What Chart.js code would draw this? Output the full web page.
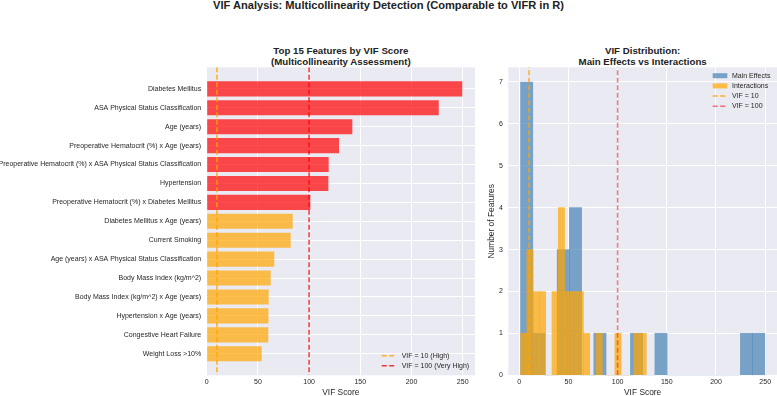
<!DOCTYPE html>
<html>
<head>
<meta charset="utf-8">
<script src="https://cdn.jsdelivr.net/npm/chart.js@4.4.0/dist/chart.umd.min.js"></script>
<style>
  html, body { margin: 0; padding: 0; background: #fff; overflow: hidden; }
  body { width: 777px; height: 396px; position: relative; font-family: "Liberation Sans", Arial, sans-serif; color: #222; }
  .title { position: absolute; text-align: center; font-weight: bold; white-space: nowrap; }
  #suptitle { left: 0; width: 777px; top: 0; font-size: 11.1px; line-height: 11px; }
  #leftTitle { left: 206.7px; width: 268.3px; top: 44.6px; font-size: 9.7px; line-height: 11px; }
  #rightTitle { left: 508.3px; width: 268.7px; top: 44.6px; font-size: 9.7px; line-height: 11px; }
  canvas { position: absolute; top: 0; }
  #leftChart { left: 0; }
  #rightChart { left: 480px; }
</style>
</head>
<body>
<div id="suptitle" class="title">VIF Analysis: Multicollinearity Detection (Comparable to VIFR in R)</div>
<div id="leftTitle" class="title">Top 15 Features by VIF Score<br>(Multicollinearity Assessment)</div>
<div id="rightTitle" class="title">VIF Distribution:<br>Main Effects vs Interactions</div>
<canvas id="leftChart" width="480" height="400"></canvas>
<canvas id="rightChart" width="297" height="400"></canvas>
<script>
// top 15 features, highest VIF first
const features = [
    'Diabetes Mellitus',
    'ASA Physical Status Classification',
    'Age (years)',
    'Preoperative Hematocrit (%) x Age (years)',
    'Preoperative Hematocrit (%) x ASA Physical Status Classification',
    'Hypertension',
    'Preoperative Hematocrit (%) x Diabetes Mellitus',
    'Diabetes Mellitus x Age (years)',
    'Current Smoking',
    'Age (years) x ASA Physical Status Classification',
    'Body Mass Index (kg/m^2)',
    'Body Mass Index (kg/m^2) x Age (years)',
    'Hypertension x Age (years)',
    'Congestive Heart Failure',
    'Weight Loss >10%'
];
const vifScores = [249.6, 226.6, 142.2, 129.2, 119.1, 118.8, 101.2, 84.0, 82.0, 66.0, 62.5, 60.5, 60.3, 60.2, 53.7];

// histogram bins (edges) and counts
const mainEdges = [1.4, 13.81, 26.22, 38.63, 51.04, 63.45, 75.86, 88.27, 100.68, 113.09, 125.5,
                   137.91, 150.32, 162.73, 175.14, 187.55, 199.96, 212.37, 224.78, 237.19, 249.6];
const mainCounts = [7, 1, 0, 3, 4, 0, 1, 0, 0, 1, 0, 1, 0, 0, 0, 0, 0, 0, 1, 1];
const interEdges = [1.4, 7.79, 14.18, 20.57, 26.96, 33.35, 39.74, 46.13, 52.52, 58.91, 65.3,
                    71.69, 78.08, 84.47, 90.86, 97.25, 103.64, 110.03, 116.42, 122.81, 129.2];
const interCounts = [1, 3, 2, 2, 0, 2, 4, 2, 2, 2, 1, 0, 1, 0, 0, 1, 0, 0, 1, 1];

const thresholdHigh = 10;
const thresholdVeryHigh = 100;

// axis limits
const leftXMax = 262;
const leftYMin = -1.14, leftYMax = 15.14;
const rightXMin = -11.05, rightXMax = 262;
const rightYMax = 7.35;

Chart.defaults.font.family = "'Liberation Sans', Arial, sans-serif";
Chart.defaults.color = '#262626';

const tickFont = { size: 7 };
const axisTitleFont = { size: 8.4 };

let plotBackground = {
    id: 'plotBackground',
    beforeDraw: function (chart) {
        let a = chart.chartArea;
        chart.ctx.save();
        chart.ctx.fillStyle = '#eaeaf2';
        chart.ctx.fillRect(a.left, a.top, a.right - a.left, a.bottom - a.top);
        chart.ctx.restore();
    }
};

// legend drawn inside the plot area, like matplotlib
let insideLegend = {
    id: 'insideLegend',
    afterDatasetsDraw: function (chart, args, opts) {
        let ctx = chart.ctx;
        let a = chart.chartArea;
        let items = chart.data.datasets.filter(d => !d.noLegend);
        ctx.save();
        ctx.font = '7px "Liberation Sans", Arial, sans-serif';
        ctx.textBaseline = 'middle';
        items.forEach(function (d, i) {
            let x = a.right + opts.dx;
            let y = (opts.fromBottom ? a.bottom : a.top) + opts.dy + i * opts.rowHeight;
            if (d.type === 'bar') {
                ctx.fillStyle = d.backgroundColor;
                ctx.fillRect(x, y - 2.5, 14.6, 5);
            } else {
                ctx.strokeStyle = d.borderColor;
                ctx.lineWidth = d.borderWidth;
                ctx.setLineDash(d.borderDash);
                ctx.beginPath();
                ctx.moveTo(x, y);
                ctx.lineTo(x + 15, y);
                ctx.stroke();
                ctx.setLineDash([]);
            }
            ctx.fillStyle = '#262626';
            ctx.fillText(d.label, x + opts.textGap, y);
        });
        ctx.restore();
    }
};

let vLine = function (label, xValue, y0, y1, color, xAxisID) {
    return {
        type: 'line',
        label: label,
        data: [{ x: xValue, y: y0 }, { x: xValue, y: y1 }],
        xAxisID: xAxisID,
        borderColor: color,
        borderWidth: 1.5,
        borderDash: [5, 2.5],
        pointRadius: 0,
        order: 1
    };
};

let leftChartDraw = function () {
    let ctx = document.getElementById('leftChart').getContext('2d');
    new Chart(ctx, {
        type: 'bar',
        data: {
            datasets: [
                {
                    type: 'bar',
                    label: 'VIF Score',
                    noLegend: true,
                    data: vifScores.map((v, i) => ({ x: v, y: i })),
                    backgroundColor: vifScores.map(v => v >= thresholdVeryHigh ? 'rgba(255,0,0,0.7)' : 'rgba(255,165,0,0.7)'),
                    barPercentage: 0.8,
                    categoryPercentage: 1,
                    order: 2
                },
                vLine('VIF = 10 (High)', thresholdHigh, leftYMin, leftYMax, 'rgba(255,165,0,0.85)', 'x'),
                vLine('VIF = 100 (Very High)', thresholdVeryHigh, leftYMin, leftYMax, 'rgba(255,0,0,0.8)', 'x')
            ]
        },
        options: {
            responsive: false,
            animation: false,
            indexAxis: 'y',
            layout: { padding: { top: 67.3, right: 5, bottom: 0, left: 0 } },
            plugins: {
                legend: { display: false },
                tooltip: { enabled: false },
                insideLegend: { dx: -93.3, dy: -19.6, rowHeight: 10, textGap: 20, fromBottom: true }
            },
            scales: {
                x: {
                    type: 'linear',
                    min: 0,
                    max: leftXMax,
                    grid: { color: '#ffffff', drawTicks: false },
                    border: { display: false },
                    ticks: { stepSize: 50, includeBounds: false, padding: 3, font: tickFont },
                    title: { display: true, text: 'VIF Score', font: axisTitleFont, padding: { top: 0, bottom: 2.4 } },
                    afterFit: function (scale) { scale.height = 24.7; }
                },
                y: {
                    type: 'linear',
                    reverse: true,
                    min: leftYMin,
                    max: leftYMax,
                    offset: false,
                    grid: { color: '#ffffff', drawTicks: false, offset: false },
                    border: { display: false },
                    afterBuildTicks: function (scale) {
                        scale.ticks = features.map((f, i) => ({ value: i }));
                    },
                    ticks: {
                        autoSkip: false,
                        padding: 5.5,
                        font: tickFont,
                        callback: function (value) { return features[value]; }
                    },
                    afterFit: function (scale) { scale.width = 206.7; }
                }
            }
        },
        plugins: [plotBackground, insideLegend]
    });
};

let binsToPoints = function (edges, counts) {
    return counts.map((c, i) => ({ x: (edges[i] + edges[i + 1]) / 2, y: c }));
};

let rightChartDraw = function () {
    let ctx = document.getElementById('rightChart').getContext('2d');
    new Chart(ctx, {
        type: 'bar',
        data: {
            datasets: [
                {
                    type: 'bar',
                    label: 'Main Effects',
                    data: binsToPoints(mainEdges, mainCounts),
                    xAxisID: 'x',
                    backgroundColor: 'rgba(70,130,180,0.7)',
                    barPercentage: 1,
                    categoryPercentage: 1,
                    grouped: false,
                    order: 3
                },
                {
                    type: 'bar',
                    label: 'Interactions',
                    data: binsToPoints(interEdges, interCounts),
                    xAxisID: 'x2',
                    backgroundColor: 'rgba(255,165,0,0.7)',
                    barPercentage: 1,
                    categoryPercentage: 1,
                    grouped: false,
                    order: 2
                },
                vLine('VIF = 10', thresholdHigh, 0, rightYMax, 'rgba(255,165,0,0.85)', 'x'),
                vLine('VIF = 100', thresholdVeryHigh, 0, rightYMax, 'rgba(255,0,0,0.55)', 'x')
            ]
        },
        options: {
            responsive: false,
            animation: false,
            layout: { padding: { top: 67.3, right: 0, bottom: 0, left: 0 } },
            plugins: {
                legend: { display: false },
                tooltip: { enabled: false },
                insideLegend: { dx: -64.3, dy: 8.4, rowHeight: 10.2, textGap: 19.3, fromBottom: false }
            },
            scales: {
                x: {
                    type: 'linear',
                    min: rightXMin,
                    max: rightXMax,
                    offset: false,
                    grid: { color: '#ffffff', drawTicks: false, offset: false },
                    border: { display: false },
                    ticks: { stepSize: 50, includeBounds: false, padding: 3, font: tickFont },
                    title: { display: true, text: 'VIF Score', font: axisTitleFont, padding: { top: 0, bottom: 2.4 } },
                    afterFit: function (scale) { scale.height = 24.7; }
                },
                x2: {
                    type: 'linear',
                    axis: 'x',
                    display: false,
                    min: rightXMin,
                    max: rightXMax,
                    offset: false,
                    ticks: { stepSize: 50 }
                },
                y: {
                    type: 'linear',
                    min: 0,
                    max: rightYMax,
                    grid: { color: '#ffffff', drawTicks: false },
                    border: { display: false },
                    ticks: { stepSize: 1, includeBounds: false, padding: 5.5, font: tickFont },
                    title: { display: true, text: 'Number of Features', font: axisTitleFont, padding: { top: 7, bottom: 0 } },
                    afterFit: function (scale) { scale.width = 28.3; }
                }
            }
        },
        plugins: [plotBackground, insideLegend]
    });
};

window.onload = function () {
    leftChartDraw();
    rightChartDraw();
};
</script>
</body>
</html>
